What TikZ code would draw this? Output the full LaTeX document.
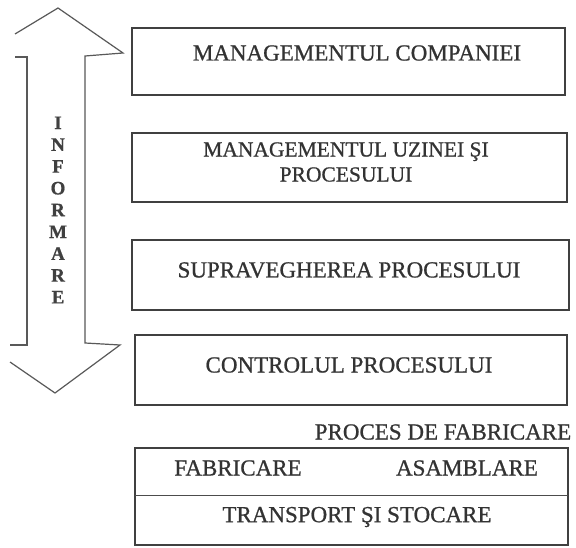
\documentclass[tikz,border=0pt]{standalone}
\usepackage{fontspec}
\setmainfont{Liberation Serif}
\newfontfamily\printfont{Liberation Serif}[FakeBold=0.8]
\begin{document}
\begin{tikzpicture}[x=1pt,y=-1pt,
  frame/.style={draw=black!75,line width=1.6pt},
  label/.style={text=black!80,font=\printfont\fontsize{23}{26}\selectfont,inner sep=0pt,align=center},
  outline/.style={draw=black!65,line width=1.2pt,line join=miter},
  letter/.style={text=black!75,font=\printfont\fontsize{19}{22}\selectfont\bfseries,inner sep=0pt}]
\useasboundingbox[fill=white] (0,0) rectangle (576,548);

% two-headed INFORMARE arrow
\draw[outline] (15,34) -- (58,8) -- (123,53) -- (85,56) -- (85,343) -- (120,345) -- (55,393) -- (10,362);
\draw[outline] (10,345) -- (27,345) -- (27,57) -- (15,57);
\foreach \c [count=\i] in {I,N,F,O,R,M,A,R,E}
  \node[letter] (inf\i) at (58,{101+21.8*\i}) {\c};

% levels of the hierarchy
\draw[frame] (132,28) rectangle (565,95);
\node[label] (companie) at (357,53) {MANAGEMENTUL COMPANIEI};

\draw[frame] (132,133) rectangle (567,202);
\node[label,font=\printfont\fontsize{21.5}{25}\selectfont] (uzina) at (346,162) {MANAGEMENTUL UZINEI ŞI\\PROCESULUI};

\draw[frame] (132,240) rectangle (569,310);
\node[label] (supraveghere) at (349,270) {SUPRAVEGHEREA PROCESULUI};

\draw[frame] (135,335) rectangle (567,405);
\node[label] (control) at (349,365) {CONTROLUL PROCESULUI};

% manufacturing process
\node[label] (proces) at (443,432) {PROCES DE FABRICARE};
\draw[frame] (135,448) rectangle (568,545);
\draw[draw=black!70,line width=1pt] (135,495) -- (568,495);
\node[label] (fabricare) at (238,468) {FABRICARE};
\node[label] (asamblare) at (467,468) {ASAMBLARE};
\node[label] (transport) at (357,517) {TRANSPORT ŞI STOCARE};
\end{tikzpicture}
\end{document}
